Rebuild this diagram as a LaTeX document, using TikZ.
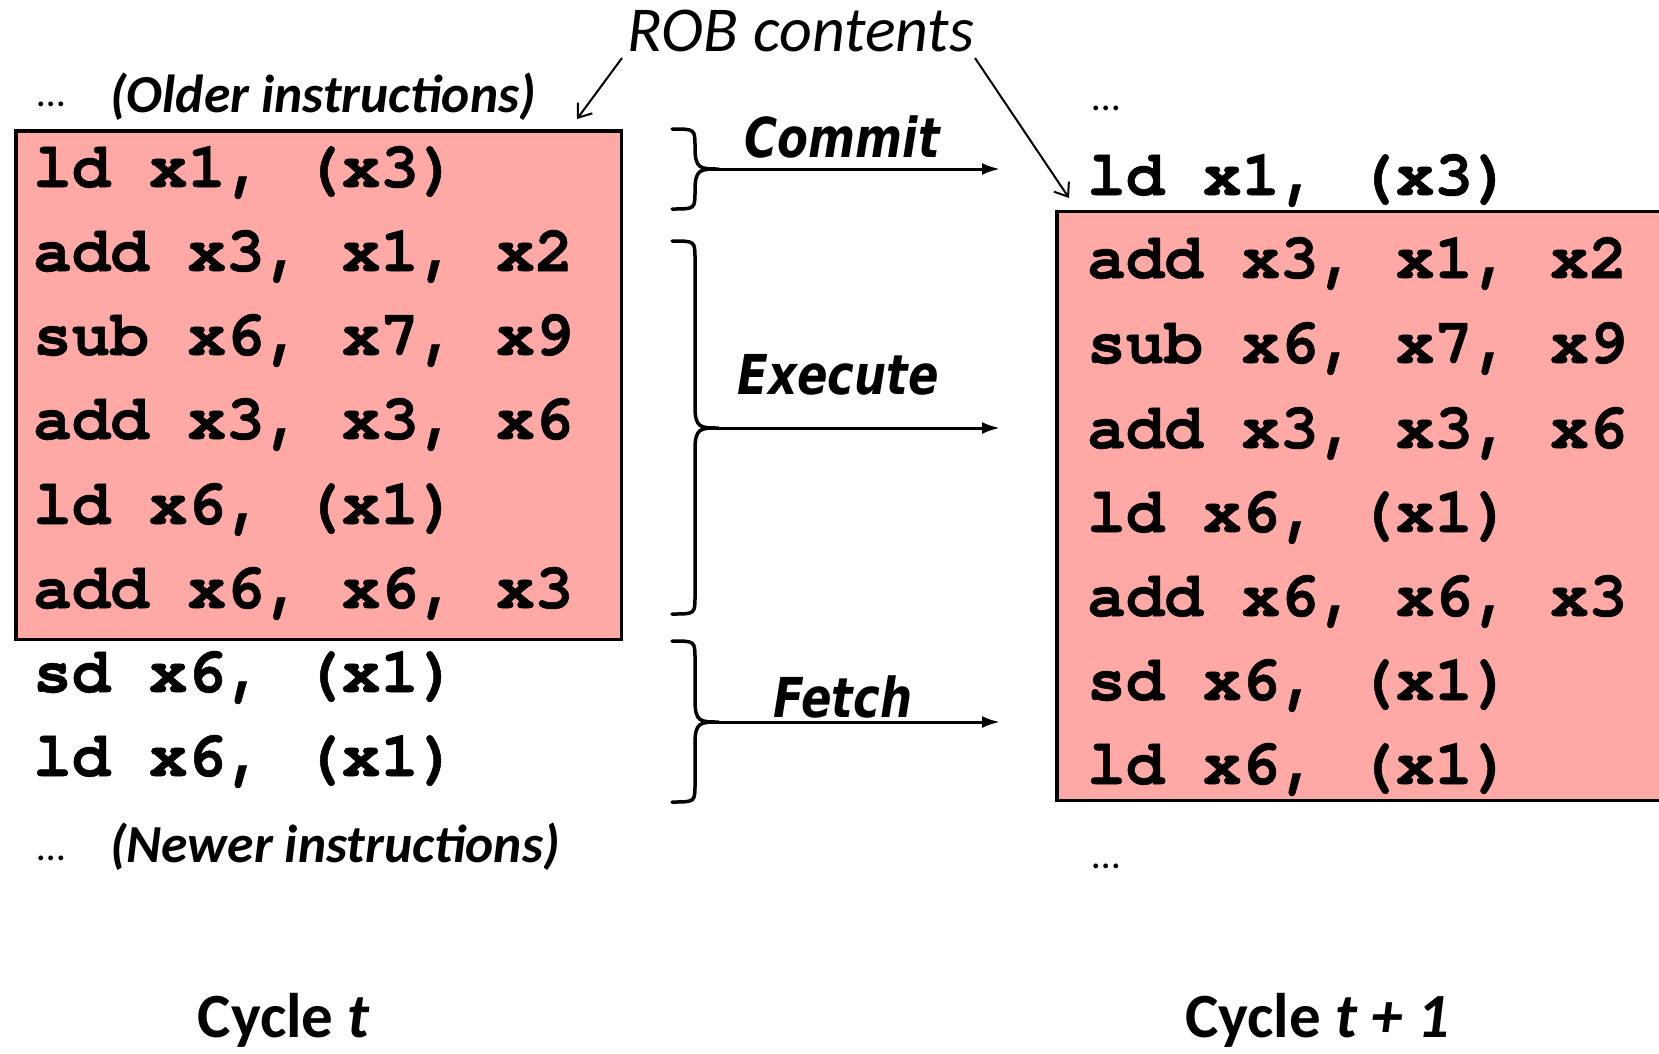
\documentclass[tikz,border=0pt]{standalone}
\usepackage{fontspec}
\setmainfont{Carlito}
\newfontfamily\codefont[FakeBold=0.8]{TeX Gyre Cursor}
\newfontfamily\stagefont[FakeStretch=0.82]{DejaVu Sans}
\usetikzlibrary{arrows.meta}
\definecolor{robfill}{RGB}{255,169,166}
\begin{document}
\begin{tikzpicture}[x=1pt,y=-1pt,
  code/.style={anchor=base west, inner sep=0pt, font=\fontsize{64.3}{64.3}\codefont\bfseries},
  stage/.style={anchor=base, inner sep=0pt, font=\fontsize{55}{55}\stagefont\bfseries\itshape},
  note/.style={anchor=base west, inner sep=0pt, font=\fontsize{53.5}{53.5}\selectfont\bfseries\itshape},
  dots/.style={anchor=base west, inner sep=0pt, font=\fontsize{40}{40}\selectfont},
  cycle/.style={anchor=base, inner sep=0pt, font=\fontsize{63}{63}\selectfont\bfseries},
  robbox/.style={draw=black, line width=3.5pt, fill=robfill, inner sep=0pt, outer sep=0pt, anchor=north west},
  bracepath/.style={line width=3.5pt, line cap=round},
  flow/.style={line width=3pt, -{Latex[length=18pt,width=12pt]}},
  pointer/.style={line width=2pt, -{Straight Barb[length=12pt,width=18pt]}}
]
\useasboundingbox (0,0) rectangle (1659,1053);
\clip (0,0) rectangle (1659,1053);

% ROB boxes
\node[robbox, minimum width=605.5pt, minimum height=508.5pt] (robL) at (15.75,130.75) {};
\node[robbox, minimum width=650pt, minimum height=589pt] (robR) at (1056.75,211.25) {};

% ROB contents label and pointers
\node[anchor=base, inner sep=0pt, font=\fontsize{64}{64}\selectfont\itshape] (rob) at (801,51) {ROB contents};
\coordinate (robLtip) at (577,119);
\coordinate (robRtip) at (1069,198);
\coordinate (robLfrom) at (622,58);
\coordinate (robRfrom) at (975,58);
\draw[pointer] (robLfrom) -- (robLtip);
\draw[pointer] (robRfrom) -- (robRtip);

% Left column (cycle t)
\node[dots] (ldotsTop) at (37,106) {…};
\node[note] (older) at (110,112) {(Older instructions)};
\node[code] (l1) at (33,187) {ld x1, (x3)};
\node[code] (l2) at (33,271) {add x3, x1, x2};
\node[code] (l3) at (33,355) {sub x6, x7, x9};
\node[code] (l4) at (33,439) {add x3, x3, x6};
\node[code] (l5) at (33,524) {ld x6, (x1)};
\node[code] (l6) at (33,608) {add x6, x6, x3};
\node[code] (l7) at (33,692) {sd x6, (x1)};
\node[code] (l8) at (33,776) {ld x6, (x1)};
\node[dots] (ldotsBot) at (37,860) {…};
\node[note] (newer) at (110,862) {(Newer instructions)};

% Right column (cycle t+1)
\node[dots] (rdotsTop) at (1092,110) {…};
\node[code] (r1) at (1087,195) {ld x1, (x3)};
\node[code] (r2) at (1087,278) {add x3, x1, x2};
\node[code] (r3) at (1087,363) {sub x6, x7, x9};
\node[code] (r4) at (1087,448) {add x3, x3, x6};
\node[code] (r5) at (1087,532) {ld x6, (x1)};
\node[code] (r6) at (1087,616) {add x6, x6, x3};
\node[code] (r7) at (1087,700) {sd x6, (x1)};
\node[code] (r8) at (1087,784) {ld x6, (x1)};
\node[dots] (rdotsBot) at (1092,868) {…};

% Braces
\newcommand{\stagebrace}[3]{%
  \draw[bracepath] (672,#1) .. controls (695,#1) .. (695,#1+18)
    -- (695,#3-22) .. controls (695,#3) and (700,#3) .. (719,#3)
    .. controls (700,#3) and (695,#3) .. (695,#3+22)
    -- (695,#2-18) .. controls (695,#2) .. (672,#2);}
\stagebrace{129}{209}{169}
\stagebrace{241}{614}{428}
\stagebrace{641}{802}{722}

\coordinate (cTip) at (719,169); \coordinate (cEnd) at (1000,169);
\coordinate (eTip) at (719,428); \coordinate (eEnd) at (1000,428);
\coordinate (fTip) at (719,722); \coordinate (fEnd) at (1000,722);
\draw[flow] (cTip) -- (cEnd);
\draw[flow] (eTip) -- (eEnd);
\draw[flow] (fTip) -- (fEnd);

\node[stage] (commit) at (842,157) {Commit};
\node[stage] (execute) at (838,394) {Execute};
\node[stage] (fetch) at (843,717) {Fetch};

% Cycle labels
\node[cycle] (cyc1) at (284,1037) {Cycle \textit{t}};
\node[cycle] (cyc2) at (1317,1037) {Cycle \textit{t + 1}};
\end{tikzpicture}
\end{document}
